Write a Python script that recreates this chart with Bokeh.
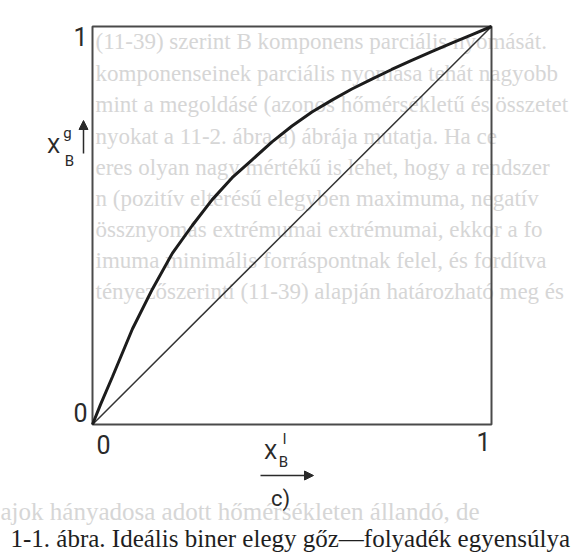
from bokeh.plotting import figure
from bokeh.models import Range1d, Arrow, NormalHead
from bokeh.core.properties import value
from bokeh.embed import file_html
from bokeh.resources import INLINE

# Mole fraction of B in the liquid and in the equilibrium vapour (ideal binary mixture)
x_liquid = [0.0, 0.02, 0.05, 0.10, 0.15, 0.20, 0.25, 0.30, 0.35, 0.40, 0.45,
            0.50, 0.55, 0.60, 0.65, 0.70, 0.75, 0.80, 0.85, 0.90, 0.95, 1.0]
y_vapour = [0.0, 0.05, 0.12, 0.24, 0.34, 0.43, 0.50, 0.565, 0.62, 0.665, 0.71,
            0.75, 0.785, 0.815, 0.843, 0.868, 0.892, 0.915, 0.937, 0.958, 0.979, 1.0]
# x = y reference line
diag = [0.0, 1.0]
# axis ends and their labels
ticks = [0.0, 1.0]
tick_labels = ["0", "1"]

caption = "1-1. ábra. Ideális biner elegy gőz\u2014folyadék egyensúlya"

# faint page text showing through the printed sheet
page_lines = [
    "(11-39) szerint B komponens parciális nyomását.",
    "komponenseinek parciális nyomása tehát nagyobb",
    "mint a megoldásé (azonos hőmérsékletű és összetet",
    "nyokat a 11-2. ábra a) ábrája mutatja. Ha ce",
    "eres olyan nagy mértékű is lehet, hogy a rendszer",
    "n (pozitív eltérésű elegyben maximuma, negatív",
    "össznyomás extrémumai extrémumai, ekkor a fo",
    "imuma minimális forráspontnak felel, és fordítva",
    "tényezőszerinti (11-39) alapján határozható meg és",
]
page_line_y = [41, 73, 104, 136, 167, 198, 229, 260, 291]
bottom_line = "ajok hányadosa adott hőmérsékleten állandó, de"

W, H = 579, 554
# pixel box of the unit square on the page
LEFT, RIGHT, TOP, BOTTOM = 92, 491, 26, 424
SX = RIGHT - LEFT
SY = BOTTOM - TOP


def dx(px):
    return (px - LEFT) / SX


def dy(py):
    return (BOTTOM - py) / SY


p = figure(width=W, height=H, output_backend="svg", toolbar_location=None,
           x_range=Range1d(dx(0), dx(W)), y_range=Range1d(dy(H), dy(0)),
           x_axis_location=None, y_axis_location=None, min_border=0)
p.grid.visible = False
p.outline_line_color = None
p.background_fill_color = "white"
p.border_fill_color = "white"

SERIF = value("Liberation Serif")
SANS = value("Roboto")

# show-through text
p.text(x=[dx(95)] * len(page_lines), y=[dy(v) for v in page_line_y], text=page_lines,
       text_font=SERIF, text_font_size="23px", text_color="#d6d6d6",
       text_align="left", text_baseline="middle")
p.text(x=[dx(0)], y=[dy(511)], text=[bottom_line], text_font=SERIF,
       text_font_size="25px", text_color="#d6d6d6", text_align="left",
       text_baseline="middle")

# frame of the diagram
p.quad(left=[ticks[0]], right=[ticks[1]], bottom=[ticks[0]], top=[ticks[1]],
       fill_color=None, line_color="#4a4a4a", line_width=2)

# diagonal and equilibrium curve
p.line(diag, diag, line_color="#333333", line_width=1.5)
p.line(x_liquid, y_vapour, line_color="#1c1c1c", line_width=3)

# end labels on both axes
p.text(x=[ticks[0], ticks[0]], y=ticks, text=tick_labels, x_offset=[-12, -12],
       y_offset=[-12, 10], text_font=SANS, text_font_size="25px",
       text_color="#2a2a2a", text_align="center", text_baseline="middle")
p.text(x=ticks, y=[ticks[0], ticks[0]], text=tick_labels, x_offset=[11, -8],
       y_offset=[20, 17], text_font=SANS, text_font_size="25px",
       text_color="#2a2a2a", text_align="center", text_baseline="middle")

# axis titles: vapour fraction (left) and liquid fraction (below)
p.text(x=[dx(53), dx(270)], y=[dy(145), dy(451)], text=["X", "X"],
       text_font=SANS, text_font_size="21px", text_color="#2a2a2a",
       text_align="center", text_baseline="middle")
p.text(x=[dx(67), dx(284)], y=[dy(132), dy(438)], text=["g", "l"],
       text_font=SANS, text_font_size="15px", text_color="#2a2a2a",
       text_align="center", text_baseline="middle")
p.text(x=[dx(69), dx(283)], y=[dy(160), dy(461)], text=["B", "B"],
       text_font=SANS, text_font_size="15px", text_color="#2a2a2a",
       text_align="center", text_baseline="middle")

p.add_layout(Arrow(x_start=dx(83), y_start=dy(153), x_end=dx(83), y_end=dy(120),
                   line_color="#2a2a2a", line_width=1.5,
                   end=NormalHead(size=9, fill_color="#2a2a2a", line_color="#2a2a2a")))
p.add_layout(Arrow(x_start=dx(260), y_start=dy(475), x_end=dx(313), y_end=dy(475),
                   line_color="#2a2a2a", line_width=1.5,
                   end=NormalHead(size=9, fill_color="#2a2a2a", line_color="#2a2a2a")))

p.text(x=[dx(280)], y=[dy(498)], text=["c)"], text_font=SANS, text_font_size="22px",
       text_color="#2a2a2a", text_align="center", text_baseline="middle")

# figure caption
p.text(x=[dx(10)], y=[dy(538)], text=[caption], text_font=SERIF,
       text_font_size="25px", text_color="#1e1e1e", text_align="left",
       text_baseline="middle")

open("out.html", "w").write(file_html(p, INLINE))
